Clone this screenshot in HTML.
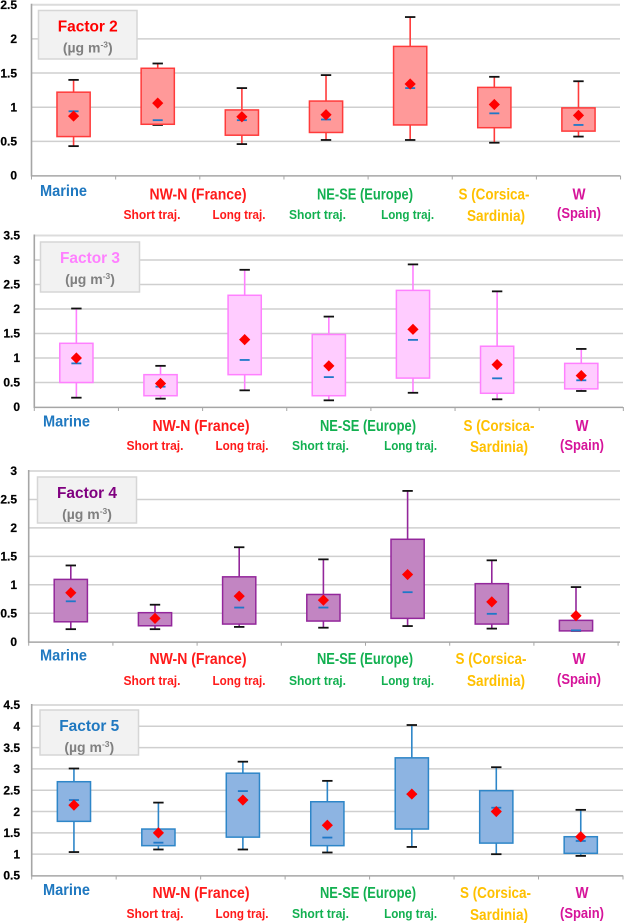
<!DOCTYPE html>
<html lang="en">
<head>
<meta charset="utf-8">
<title>Factor concentrations by trajectory</title>
<style>
html,body{margin:0;padding:0;background:#fff;width:624px;height:923px;overflow:hidden}
svg{display:block}
text{font-family:"Liberation Sans",sans-serif;font-weight:bold}
</style>
</head>
<body>
<svg id="figure" xmlns="http://www.w3.org/2000/svg" width="624" height="923" viewBox="0 0 624 923"></svg>
<script>
const categories=['marine','nw-short','nw-long','ne-short','ne-long','s-corsica','w-spain'];

const f2Ticks=['0','0.5','1','1.5','2','2.5'];
const f2Max=[1.40,1.64,1.28,1.47,2.32,1.445,1.38];
const f2Q3=[1.22,1.57,0.96,1.09,1.89,1.29,0.99];
const f2Q1=[0.57,0.75,0.59,0.63,0.74,0.70,0.65];
const f2Min=[0.43,0.74,0.46,0.52,0.52,0.48,0.57];
const f2Mean=[0.87,1.06,0.86,0.89,1.34,1.04,0.88];
const f2Median=[0.94,0.81,0.81,0.82,1.28,0.91,0.74];

const f3Ticks=['0','0.5','1','1.5','2','2.5','3','3.5'];
const f3Max=[2.01,0.84,2.80,1.845,2.91,2.36,1.185];
const f3Q3=[1.30,0.66,2.28,1.48,2.38,1.24,0.89];
const f3Q1=[0.50,0.23,0.66,0.23,0.59,0.28,0.37];
const f3Min=[0.19,0.17,0.34,0.136,0.29,0.157,0.327];
const f3Mean=[1.00,0.48,1.375,0.84,1.585,0.865,0.64];
const f3Median=[0.89,0.415,0.96,0.61,1.37,0.585,0.545];

const f4Ticks=['0','0.5','1','1.5','2','2.5','3'];
const f4Max=[1.34,0.65,1.66,1.447,2.65,1.43,0.96];
const f4Q3=[1.095,0.51,1.14,0.83,1.80,1.02,0.375];
const f4Q1=[0.35,0.28,0.31,0.363,0.41,0.31,0.19];
const f4Min=[0.22,0.22,0.26,0.246,0.275,0.23,0.19];
const f4Mean=[0.86,0.41,0.80,0.73,1.18,0.70,0.457];
const f4Median=[0.71,0.41,0.60,0.60,0.87,0.49,0.20];

const f5Ticks=['0.5','1','1.5','2','2.5','3','3.5','4','4.5'];
const f5Max=[3.01,2.21,3.17,2.72,4.03,3.04,2.04];
const f5Q3=[2.70,1.59,2.90,2.23,3.26,2.49,1.41];
const f5Q1=[1.77,1.20,1.40,1.20,1.59,1.26,1.02];
const f5Min=[1.05,1.11,1.11,1.04,1.17,1.00,0.96];
const f5Mean=[2.15,1.50,2.27,1.68,2.41,2.00,1.41];
const f5Median=[2.27,1.27,2.48,1.39,2.41,2.09,1.31];

const svg=document.getElementById('figure');
const NS='http://www.w3.org/2000/svg';
function make(parent,tag,attrs,txt){
  const el=document.createElementNS(NS,tag);
  for(const k in attrs){el.setAttribute(k,attrs[k]);}
  if(txt!==undefined){el.textContent=txt;}
  parent.appendChild(el);
  return el;
}

const panels=[
 {id:'factor-2',title:'Factor 2',color:'#ff0000',ticks:f2Ticks,max:f2Max,q3:f2Q3,q1:f2Q1,min:f2Min,mean:f2Mean,median:f2Median,
  left:31.5,right:620,catW:84.15,base:175.5,unit:68.3,tickR:17,fill:'#ff9999',stroke:'#ff3b3b',
  box:[38.5,10.5,98.5,48.5],dx:0,corsica:494,rows:[196,199.5,219,221,218]},
 {id:'factor-3',title:'Factor 3',color:'#ff80ff',ticks:f3Ticks,max:f3Max,q3:f3Q3,q1:f3Q1,min:f3Min,mean:f3Mean,median:f3Median,
  left:34.3,right:623,catW:84.15,base:407,unit:49,tickR:20,fill:'#ffccff',stroke:'#ff80ff',
  box:[40.5,242,99,50],dx:3,corsica:499,rows:[426.7,431,450,452,450]},
 {id:'factor-4',title:'Factor 4',color:'#800080',ticks:f4Ticks,max:f4Max,q3:f4Q3,q1:f4Q1,min:f4Min,mean:f4Mean,median:f4Median,
  left:28.7,right:620,catW:84.2,base:641.7,unit:56.9,tickR:17,fill:'#c285c2',stroke:'#93279b',
  box:[37.5,477,99,46],dx:0,corsica:491,rows:[660.7,664,685,686,684]},
 {id:'factor-5',title:'Factor 5',color:'#1f78c0',ticks:f5Ticks,max:f5Max,q3:f5Q3,q1:f5Q1,min:f5Min,mean:f5Mean,median:f5Median,
  left:31.7,right:623,catW:84.47,base:875.5,unit:42.63,tickR:20,fill:'#8db4e2',stroke:'#2e86c8',
  box:[40,710,98.5,45],dx:3,corsica:495.5,rows:[895,898,918,920,918]}
];

panels.forEach(function(p){
  const g=make(svg,'g',{});
  
  
  const low=parseFloat(p.ticks[0]);
  const yAt=function(v){return p.base-(v-low)*p.unit;};
  const xAt=function(i){return p.left+(i+0.5)*p.catW;};

  p.ticks.forEach(function(t,i){
    const v=parseFloat(t);
    if(i>0){
      const top=i===p.ticks.length-1;
      const line=make(g,'line',{x1:p.left,x2:p.right,y1:yAt(v),y2:yAt(v),stroke:top?'#dcdcdc':'#cfcfcf','stroke-width':top?2:1.5});
      
      
    }
    const label=make(g,'text',{x:p.tickR,y:yAt(v)+4.2,'text-anchor':'end','font-size':12,fill:'#000',stroke:'#000','stroke-width':0.2},t);
    
    
  });

  const yAxis=make(g,'line',{x1:p.left,x2:p.left,y1:yAt(parseFloat(p.ticks[p.ticks.length-1]))-1,y2:p.base+1,stroke:'#a6a6a6','stroke-width':1.6});
  
  
  const xAxis=make(g,'line',{x1:p.left,x2:p.right,y1:p.base+0.4,y2:p.base+0.4,stroke:'#a6a6a6','stroke-width':1.5});
  
  
  for(let i=0;i<=categories.length;i++){
    const x=p.left+i*p.catW;
    const tick=make(g,'line',{x1:x,x2:x,y1:p.base,y2:p.base+4,stroke:'#a6a6a6','stroke-width':1});
    
    
  }

  const b=p.box;
  const card=make(g,'rect',{x:b[0],y:b[1],width:b[2],height:b[3],fill:'#f2f2f2',stroke:'#d6d6d6','stroke-width':1.5});
  
  
  const cx=b[0]+b[2]/2;
  const title=make(g,'text',{x:cx,y:b[1]+21,'text-anchor':'middle','font-size':16,fill:p.color,textLength:60,lengthAdjust:'spacingAndGlyphs'},p.title);
  
  
  const unit=make(g,'text',{x:cx,y:b[1]+42,'text-anchor':'middle','font-size':14,fill:'#808080'},'(µg m');
  
  
  make(unit,'tspan',{'font-size':8.5,dy:-5},'-3');
  make(unit,'tspan',{dy:5},')');

  categories.forEach(function(c,i){
    const x=xAt(i);
    const whiskerUp=make(g,'line',{x1:x,x2:x,y1:yAt(p.max[i]),y2:yAt(p.q3[i]),stroke:p.stroke,'stroke-width':1.6});
    
    
    const whiskerDown=make(g,'line',{x1:x,x2:x,y1:yAt(p.q1[i]),y2:yAt(p.min[i]),stroke:p.stroke,'stroke-width':1.6});
    
    
    const capUp=make(g,'line',{x1:x-5.2,x2:x+5.2,y1:yAt(p.max[i]),y2:yAt(p.max[i]),stroke:'#111','stroke-width':1.8});
    
    
    const capDown=make(g,'line',{x1:x-5.2,x2:x+5.2,y1:yAt(p.min[i]),y2:yAt(p.min[i]),stroke:'#111','stroke-width':1.8});
    
    
    const box=make(g,'rect',{x:x-16.6,y:yAt(p.q3[i]),width:33.2,height:yAt(p.q1[i])-yAt(p.q3[i]),fill:p.fill,stroke:p.stroke,'stroke-width':1.5});
    
    
    const median=make(g,'line',{x1:x-5,x2:x+5,y1:yAt(p.median[i]),y2:yAt(p.median[i]),stroke:'#1f78c8','stroke-width':1.8});
    
    
    const my=yAt(p.mean[i]);
    const mean=make(g,'polygon',{points:[x-5.6,my,x,my-5.6,x+5.6,my,x,my+5.6].join(' '),fill:'#ff0000'});
    
    
  });

  const red='#ff1a1a', green='#12b050', blue='#1f78c0', amber='#ffc000', pink='#d6149a';
  const r=p.rows, d=p.dx;
  const labels=[
    ['Marine',63.5+d,r[0],47,15.5,blue,'marine-label'],
    ['NW-N (France)',198+d,r[1],97,15.5,red,'nw-n-france-label'],
    ['Short traj.',152+d,r[2],57,12.5,red,'nw-short-traj-label'],
    ['Long traj.',239+d,r[2],53,12.5,red,'nw-long-traj-label'],
    ['NE-SE (Europe)',365+d,r[1],96,15.5,green,'ne-se-europe-label'],
    ['Short traj.',317.5+d,r[2],57,12.5,green,'ne-short-traj-label'],
    ['Long traj.',407.6+d,r[2],53,12.5,green,'ne-long-traj-label'],
    ['S (Corsica-',p.corsica,r[1],71,15.5,amber,'s-corsica-label'],
    ['Sardinia)',496+d,r[3],58,15.5,amber,'sardinia-label'],
    ['W',579+d,r[1],13,15.5,pink,'w-label'],
    ['(Spain)',579+d,r[4],44,15,pink,'spain-label']
  ];
  labels.forEach(function(l){
    const t=make(g,'text',{x:l[1],y:l[2],'text-anchor':'middle','font-size':l[4],fill:l[5],textLength:l[3],lengthAdjust:'spacingAndGlyphs'},l[0]);
    
    
  });
});
</script>
</body>
</html>
